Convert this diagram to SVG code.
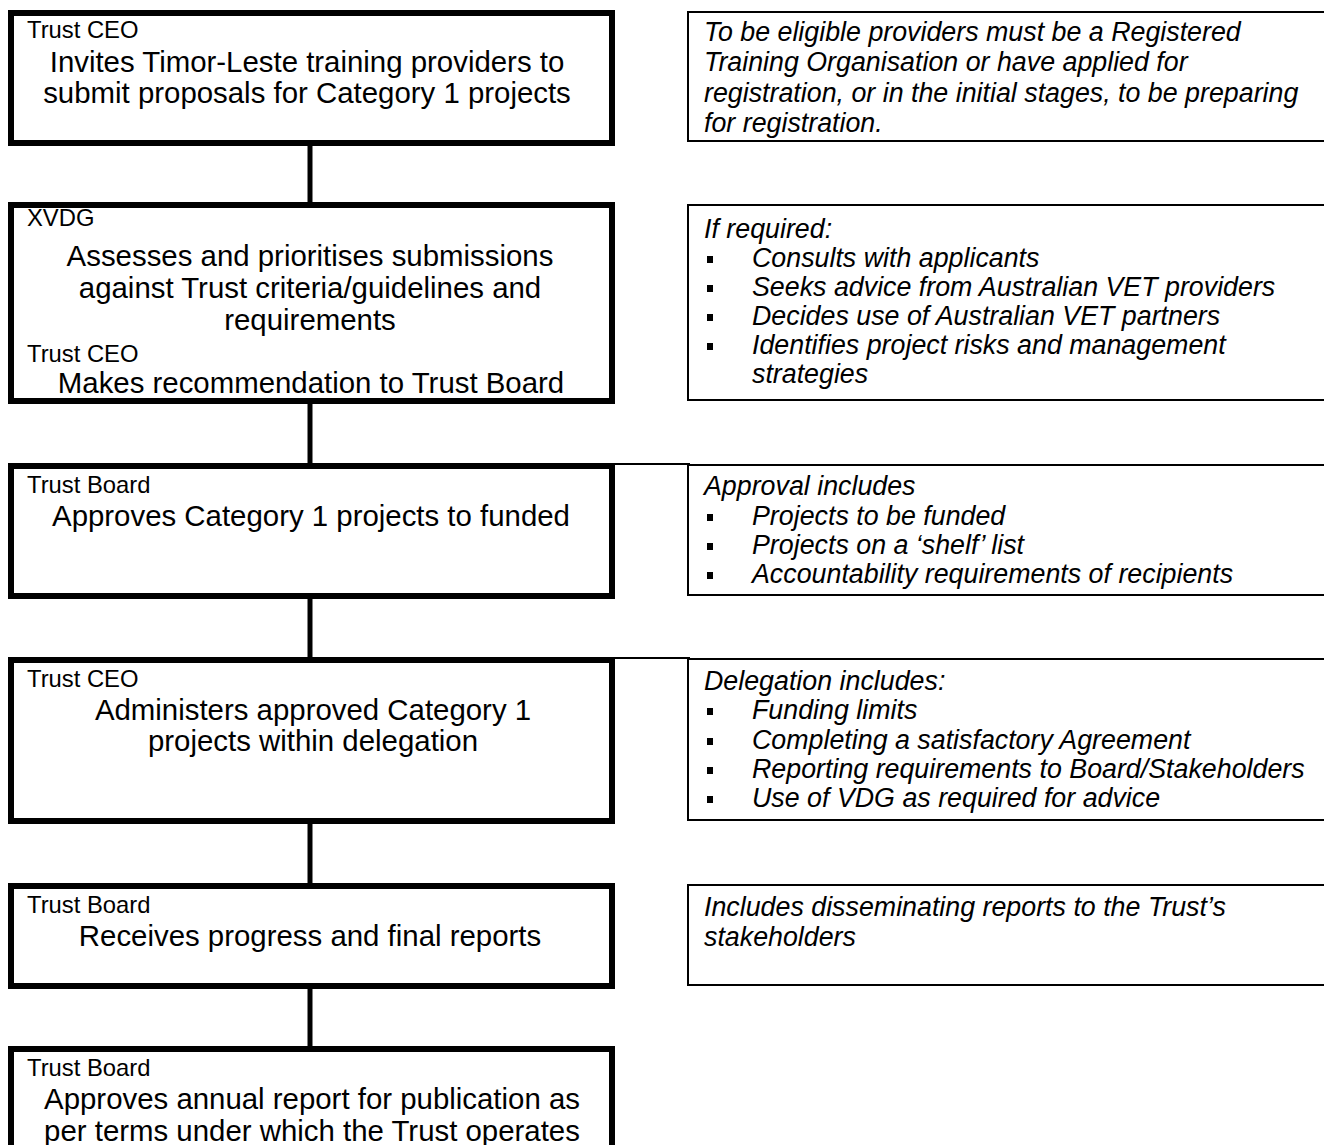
<svg xmlns="http://www.w3.org/2000/svg" width="1324" height="1145" viewBox="0 0 1324 1145">
<style>
.box{fill:#fff;stroke:#000;stroke-width:6}
.note{fill:#fff;stroke:#000;stroke-width:2}
.conn{stroke:#000;stroke-width:5;fill:none}
.thin{stroke:#000;stroke-width:2;fill:none}
.lbl{font-family:"Liberation Sans",Arial,sans-serif;font-size:23.8px;fill:#000}
.main{font-family:"Liberation Sans",Arial,sans-serif;font-size:29.4px;fill:#000;text-anchor:middle}
.it{font-family:"Liberation Sans",Arial,sans-serif;font-size:26.8px;font-style:italic;fill:#000}
.bul{fill:#000}
</style>
<rect width="1324" height="1145" fill="#fff"/>
<g id="connectors">
<line class="conn" x1="310" y1="146" x2="310" y2="205"/>
<line class="conn" x1="310" y1="404" x2="310" y2="465"/>
<line class="conn" x1="310" y1="599" x2="310" y2="659"/>
<line class="conn" x1="310" y1="824" x2="310" y2="885"/>
<line class="conn" x1="310" y1="989" x2="310" y2="1048"/>
<line class="thin" x1="615" y1="464" x2="690" y2="464"/>
<line class="thin" x1="615" y1="658" x2="690" y2="658"/>
</g>
<g id="n1">
<rect class="box" x="11" y="13" width="601" height="130"/>
<text class="lbl" x="27" y="38">Trust CEO</text>
<text class="main" x="307" y="72">Invites Timor-Leste training providers to</text>
<text class="main" x="307" y="103">submit proposals for Category 1 projects</text>
</g>
<g id="n2">
<rect class="box" x="11" y="205" width="601" height="196"/>
<text class="lbl" x="27" y="226">XVDG</text>
<text class="main" x="310" y="266">Assesses and prioritises submissions</text>
<text class="main" x="310" y="298">against Trust criteria/guidelines and</text>
<text class="main" x="310" y="330">requirements</text>
<text class="lbl" x="27" y="362">Trust CEO</text>
<text class="main" x="311" y="393">Makes recommendation to Trust Board</text>
</g>
<g id="n3">
<rect class="box" x="11" y="466" width="601" height="130"/>
<text class="lbl" x="27" y="493">Trust Board</text>
<text class="main" x="311" y="526">Approves Category 1 projects to funded</text>
</g>
<g id="n4">
<rect class="box" x="11" y="660" width="601" height="161"/>
<text class="lbl" x="27" y="687">Trust CEO</text>
<text class="main" x="313" y="720">Administers approved Category 1</text>
<text class="main" x="313" y="751">projects within delegation</text>
</g>
<g id="n5">
<rect class="box" x="11" y="886" width="601" height="100"/>
<text class="lbl" x="27" y="913">Trust Board</text>
<text class="main" x="310" y="946">Receives progress and final reports</text>
</g>
<g id="n6">
<rect class="box" x="11" y="1049" width="601" height="120"/>
<text class="lbl" x="27" y="1076">Trust Board</text>
<text class="main" x="312" y="1109">Approves annual report for publication as</text>
<text class="main" x="312" y="1141">per terms under which the Trust operates</text>
</g>
<g id="r1">
<rect class="note" x="688" y="12" width="650" height="129"/>
<text class="it" x="704" y="41">To be eligible providers must be a Registered</text>
<text class="it" x="704" y="71">Training Organisation or have applied for</text>
<text class="it" x="704" y="102">registration, or in the initial stages, to be preparing</text>
<text class="it" x="704" y="132">for registration.</text>
</g>
<g id="r2">
<rect class="note" x="688" y="205" width="650" height="195"/>
<text class="it" x="704" y="238">If required:</text>
<rect class="bul" x="707" y="256" width="6" height="7"/>
<text class="it" x="752" y="267">Consults with applicants</text>
<rect class="bul" x="707" y="285" width="6" height="7"/>
<text class="it" x="752" y="296">Seeks advice from Australian VET providers</text>
<rect class="bul" x="707" y="314" width="6" height="7"/>
<text class="it" x="752" y="325">Decides use of Australian VET partners</text>
<rect class="bul" x="707" y="343" width="6" height="7"/>
<text class="it" x="752" y="354">Identifies project risks and management</text>
<text class="it" x="752" y="383">strategies</text>
</g>
<g id="r3">
<rect class="note" x="688" y="465" width="650" height="130"/>
<text class="it" x="704" y="495">Approval includes</text>
<rect class="bul" x="707" y="514" width="6" height="7"/>
<text class="it" x="752" y="525">Projects to be funded</text>
<rect class="bul" x="707" y="543" width="6" height="7"/>
<text class="it" x="752" y="554">Projects on a ‘shelf’ list</text>
<rect class="bul" x="707" y="572" width="6" height="7"/>
<text class="it" x="752" y="583">Accountability requirements of recipients</text>
</g>
<g id="r4">
<rect class="note" x="688" y="659" width="650" height="161"/>
<text class="it" x="704" y="690">Delegation includes:</text>
<rect class="bul" x="707" y="708" width="6" height="7"/>
<text class="it" x="752" y="719">Funding limits</text>
<rect class="bul" x="707" y="738" width="6" height="7"/>
<text class="it" x="752" y="749">Completing a satisfactory Agreement</text>
<rect class="bul" x="707" y="767" width="6" height="7"/>
<text class="it" x="752" y="778">Reporting requirements to Board/Stakeholders</text>
<rect class="bul" x="707" y="796" width="6" height="7"/>
<text class="it" x="752" y="807">Use of VDG as required for advice</text>
</g>
<g id="r5">
<rect class="note" x="688" y="885" width="650" height="100"/>
<text class="it" x="704" y="916">Includes disseminating reports to the Trust’s</text>
<text class="it" x="704" y="946">stakeholders</text>
</g>
</svg>
